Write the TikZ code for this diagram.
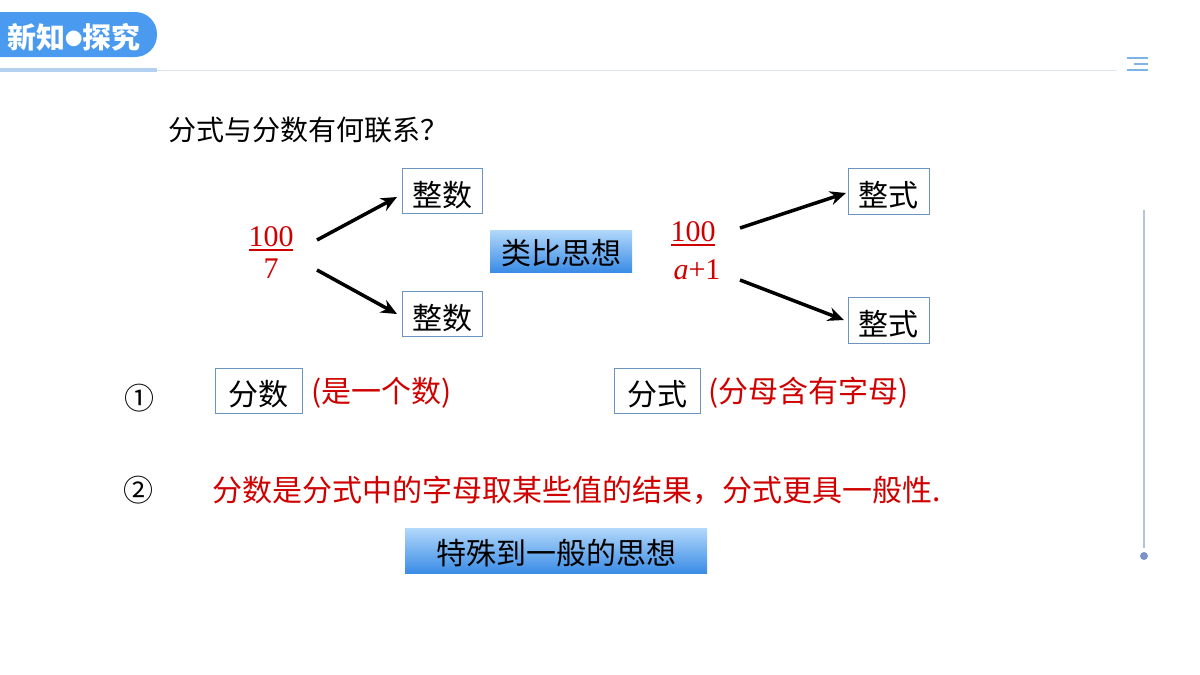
\documentclass[tikz,border=0pt]{standalone}
\usepackage{fontspec}
\setmainfont{Liberation Serif}
\newfontfamily\cjk{Noto Sans CJK SC}
\usetikzlibrary{arrows.meta}
\definecolor{tabblue}{HTML}{4A9BF0}
\definecolor{ulblue}{HTML}{B3D1F0}
\definecolor{lineg}{HTML}{DCE6F0}
\definecolor{iconb}{HTML}{7FB2E5}
\definecolor{vline}{HTML}{B4C4E0}
\definecolor{dotc}{HTML}{7C93C8}
\definecolor{boxb}{HTML}{6C94C0}
\definecolor{redt}{HTML}{D00000}
\definecolor{gtop}{HTML}{B2D8FA}
\definecolor{gbot}{HTML}{3A8CE6}
\tikzset{
  wbox/.style={draw=boxb,line width=0.9pt,fill=white,minimum width=80pt,minimum height=45pt,inner sep=0pt,text height=31pt,text depth=1pt,font=\cjk\fontsize{30}{32}\selectfont},
  gbox/.style={top color=gtop,bottom color=gbot,draw=none,inner sep=0pt,text height=29pt,text depth=2pt,font=\cjk\fontsize{30}{32}\selectfont},
  arr/.style={line width=3.5pt,-{Stealth[length=16pt,width=14pt]}},
  redtxt/.style={text=redt,inner sep=0pt,anchor=west,font=\cjk\fontsize{30}{32}\selectfont},
  frac/.style={text=redt,inner sep=0pt,font=\fontsize{30}{32}\selectfont},
  circnum/.style={inner sep=0pt,font=\cjk\fontsize{30}{32}\selectfont}
}
\begin{document}
\begin{tikzpicture}[x=1pt,y=-1pt]
\useasboundingbox (0,0) rectangle (1200,675);
\fill[white] (0,0) rectangle (1200,675);
% header
\fill[tabblue,rounded corners=22pt] (-30,12) rectangle (157,57);
\fill[white] (-40,0) rectangle (0,70);
\node[text=white,inner sep=0pt,anchor=west,font=\cjk\bfseries\fontsize{29}{30}\selectfont] (title) at (7,37) {新知\raisebox{0.08em}{\scalebox{0.6}{●}}探究};
\draw[ulblue,line width=4pt] (0,70) -- (157,70);
\draw[lineg,line width=1pt] (157,70) -- (1117,70);
\draw[iconb,line width=2pt] (1127,58) -- (1148,58);
\draw[iconb,line width=2pt] (1134,64) -- (1148,64);
\draw[iconb,line width=2pt] (1127,70) -- (1148,70);
\draw[vline,line width=1.3pt] (1144,210) -- (1144,548);
\fill[dotc] (1144,556) circle (4pt);
% question
\node[inner sep=0pt,anchor=west,font=\cjk\fontsize{28}{30}\selectfont] (q) at (168,130) {分式与分数有何联系？};
% left fraction
\node[frac] (f1n) at (271,237) {100};
\node[frac] (f1d) at (271,269) {7};
\draw[redt,line width=1.3pt] (249,250) -- (293,250);
\node[wbox] (z1) at (442,191) {整数};
\node[wbox] (z2) at (442,314) {整数};
\coordinate (f1a) at (317,240);
\coordinate (f1b) at (317,270);
\coordinate (e1) at (397,197);
\coordinate (e2) at (397,314);
\draw[arr] (f1a) -- (e1);
\draw[arr] (f1b) -- (e2);
% analogy
\node[gbox,minimum width=142pt,minimum height=42pt] (lb) at (561,251) {类比思想};
% right fraction
\node[frac] (f2n) at (693,232) {100};
\node[frac] (f2d) at (697,270) {\textit{a}+1};
\draw[redt,line width=1.3pt] (671,245) -- (715,245);
\node[wbox,minimum width=81pt,minimum height=46pt] (s1) at (888.5,191) {整式};
\node[wbox,minimum width=81pt,minimum height=46pt] (s2) at (888.5,320) {整式};
\coordinate (f2a) at (740,228);
\coordinate (f2b) at (740,280);
\coordinate (e3) at (846,193);
\coordinate (e4) at (844,320);
\draw[arr] (f2a) -- (e3);
\draw[arr] (f2b) -- (e4);
% row 1
\node[circnum] (c1) at (139,398) {①};
\node[wbox,minimum width=87pt] (fs) at (258.5,390.5) {分数};
\node[redtxt] (t1) at (311,393) {(是一个数)};
\node[wbox,minimum width=86pt] (fx) at (657,390.5) {分式};
\node[redtxt] (t2) at (708,393) {(分母含有字母)};
% row 2
\node[circnum] (c2) at (138,490) {②};
\node[redtxt] (t3) at (212,490) {分数是分式中的字母取某些值的结果，分式更具一般性.};
\node[gbox,minimum width=302pt,minimum height=45pt] (ts) at (556,550.5) {特殊到一般的思想};
\end{tikzpicture}
\end{document}
